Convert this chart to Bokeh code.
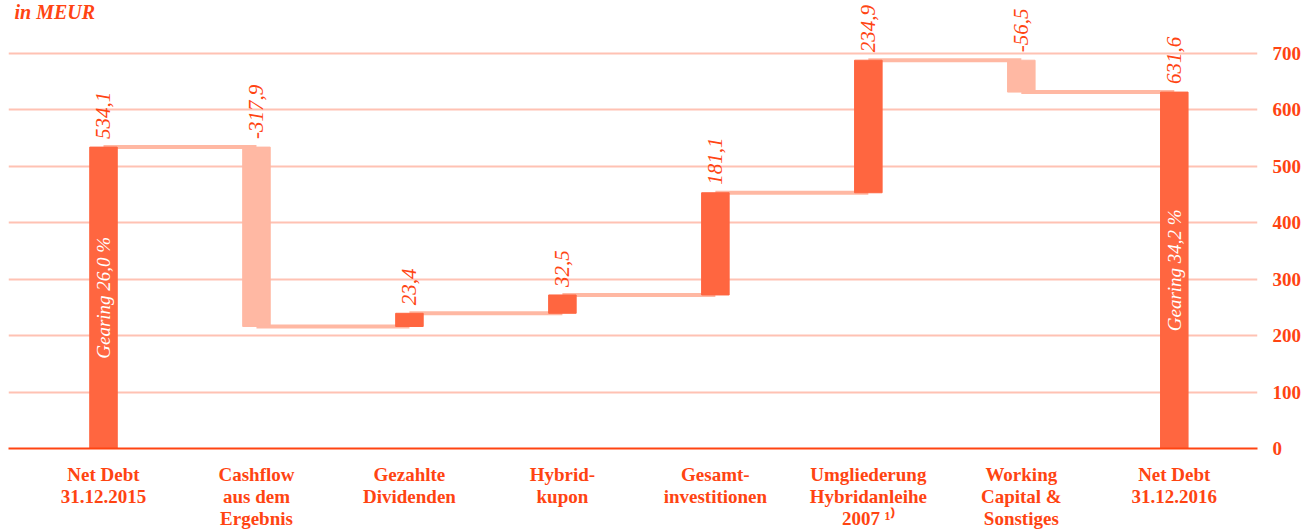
import math
from bokeh.plotting import figure
from bokeh.models import Range1d, FixedTicker, LinearAxis, ColumnDataSource
from bokeh.core.properties import value
from bokeh.embed import file_html
from bokeh.resources import INLINE

# ---- data ----
categories = ["Net Debt\n31.12.2015", "Cashflow\naus dem\nErgebnis", "Gezahlte\nDividenden",
              "Hybrid-\nkupon", "Gesamt-\ninvestitionen", "Umgliederung\nHybridanleihe\n2007 \u00b9\u207e",
              "Working\nCapital &\nSonstiges", "Net Debt\n31.12.2016"]
changes = [534.1, -317.9, 23.4, 32.5, 181.1, 234.9, -56.5, 631.6]
is_total = [True, False, False, False, False, False, False, True]
gearing = {0: "Gearing 26,0 %", 7: "Gearing 34,2 %"}
y_ticks = [0, 100, 200, 300, 400, 500, 600, 700]

DARK = "#FF6640"
LIGHT = "#FFB8A3"
GRID = "#FFC2B3"
TEXT = "#FF4412"
FONT = "Liberation Serif"

# compute waterfall
bottoms, tops, colors, level_after = [], [], [], []
level = 0.0
for c, tot in zip(changes, is_total):
    if tot:
        b, t = 0.0, c
        level = c
    else:
        b, t = level, level + c
        level = level + c
    bottoms.append(min(b, t))
    tops.append(max(b, t))
    colors.append(DARK if (tot or c > 0) else LIGHT)
    level_after.append(level)

xs = list(range(len(categories)))
bar_w = 0.18

p = figure(frame_width=1249, frame_height=448, output_backend="svg", toolbar_location=None,
           x_range=Range1d(-0.621, 7.544), y_range=Range1d(0, 793.9),
           min_border_left=8, min_border_top=0, min_border_right=0, min_border_bottom=0,
           y_axis_location=None)
p.outline_line_color = None
p.background_fill_color = "white"

# grid
p.ygrid.ticker = FixedTicker(ticks=y_ticks)
p.ygrid.grid_line_color = GRID
p.ygrid.grid_line_width = 2
p.xgrid.grid_line_color = None

# connectors
cx0 = xs[:-1]
cx1 = xs[1:]
cy = level_after[:-1]
p.segment(x0=cx0, y0=cy, x1=cx1, y1=cy, line_color=LIGHT, line_width=4)

# bars
src = ColumnDataSource(dict(x=xs, bottom=bottoms, top=tops, color=colors,
                            label=[f"{c:.1f}".replace(".", ",") for c in changes]))
p.vbar(x="x", width=bar_w, bottom="bottom", top="top", fill_color="color",
       line_color="color", line_width=1, source=src)

# value labels
p.text(x="x", y="top", text="label", source=src, angle=math.pi / 2,
       text_align="left", text_baseline="middle", y_offset=-8,
       text_font=value(FONT), text_font_style="italic", text_font_size="21px",
       text_color=TEXT)

# gearing labels
gx = list(gearing.keys())
gy = [(bottoms[i] + tops[i]) / 2 for i in gx]
p.text(x=gx, y=gy, text=list(gearing.values()), angle=math.pi / 2,
       text_align="center", text_baseline="middle",
       text_font=value(FONT), text_font_style="italic", text_font_size="19px",
       text_color="white")

# title "in MEUR"
p.text(x=[-0.621], y=[793.9], text=["in MEUR"], text_align="left", text_baseline="top",
       x_offset=6, y_offset=0,
       text_font=value(FONT), text_font_style="bold italic", text_font_size="20px",
       text_color=TEXT)

# x axis
xa = p.xaxis[0]
xa.ticker = FixedTicker(ticks=xs)
xa.major_label_overrides = {i: categories[i] for i in xs}
xa.major_tick_line_color = None
xa.major_tick_out = 0
xa.major_tick_in = 0
xa.minor_tick_line_color = None
xa.axis_line_color = TEXT
xa.axis_line_width = 2
xa.major_label_standoff = 15
xa.major_label_text_font = FONT
xa.major_label_text_font_style = "bold"
xa.major_label_text_font_size = "19px"
xa.major_label_text_color = TEXT
xa.major_label_text_line_height = 1.05

# right y axis
ya = LinearAxis(ticker=FixedTicker(ticks=y_ticks))
ya.axis_line_color = None
ya.major_tick_line_color = None
ya.major_tick_out = 0
ya.major_tick_in = 0
ya.minor_tick_line_color = None
ya.major_label_standoff = 15
ya.major_label_text_font = FONT
ya.major_label_text_font_style = "bold"
ya.major_label_text_font_size = "19px"
ya.major_label_text_color = TEXT
p.add_layout(ya, "right")

open("out.html", "w").write(file_html(p, INLINE))
